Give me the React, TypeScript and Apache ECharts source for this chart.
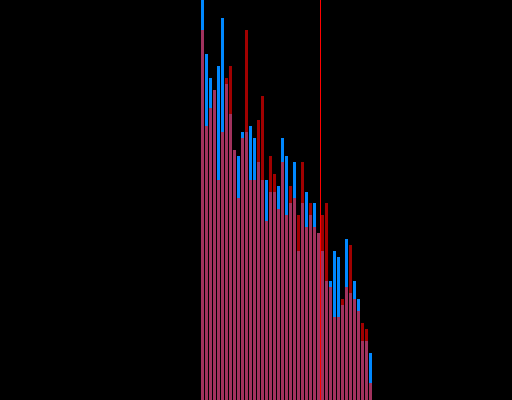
import React, { useEffect, useRef } from "react";
import * as echarts from "echarts";

// bin index (x) for each bar
const bins: number[] = Array.from({ length: 43 }, (_, i) => 50 + i);

// heights (arbitrary units, axis 0..400)
const blueValues: number[] = [
  400, 346, 322, 310, 334, 382, 316, 286, 250, 244,
  268, 268, 274, 262, 238, 220, 220, 208, 208, 214,
  262, 244, 197, 238, 149, 197, 208, 185, 197, 167,
  149, 119, 119, 149, 143, 95, 161, 107, 119, 101,
  59, 59, 47,
];
const redValues: number[] = [
  370, 274, 292, 310, 220, 268, 322, 334, 250, 202,
  262, 370, 220, 220, 280, 304, 179, 244, 226, 191,
  238, 185, 214, 202, 185, 238, 173, 197, 173, 167,
  185, 197, 113, 83, 83, 101, 113, 155, 101, 89,
  77, 71, 17,
];
const thresholdX = 79.5;

export default function App() {
  const ref = useRef<HTMLDivElement>(null);
  useEffect(() => {
    if (!ref.current) return;
    const chart = echarts.init(ref.current, undefined, { renderer: "svg" });
    chart.setOption({
      animation: false,
      backgroundColor: "#000000",
      grid: { left: 0, right: 0, top: 0, bottom: 0 },
      xAxis: {
        type: "value",
        min: -0.625,
        max: 127.375,
        show: false,
      },
      yAxis: { type: "value", min: 0, max: 400, show: false },
      series: [
        {
          type: "bar",
          name: "blue",
          data: bins.map((b, i) => [b, blueValues[i]]),
          barWidth: 3,
          barGap: "-100%",
          itemStyle: { color: "#0088ff" },
        },
        {
          type: "bar",
          name: "red",
          data: bins.map((b, i) => [b, redValues[i]]),
          barWidth: 3,
          barGap: "-100%",
          itemStyle: { color: "#ff0000", opacity: 0.63 },
          markLine: {
            silent: true,
            symbol: "none",
            label: { show: false },
            lineStyle: { color: "#ff0000", width: 1, type: "solid", opacity: 1 },
            data: [{ xAxis: thresholdX }],
          },
        },
      ],
    });
    return () => chart.dispose();
  }, []);
  return (
    <div
      ref={ref}
      style={{ position: "fixed", left: 0, top: 0, width: 512, height: 400 }}
    />
  );
}
